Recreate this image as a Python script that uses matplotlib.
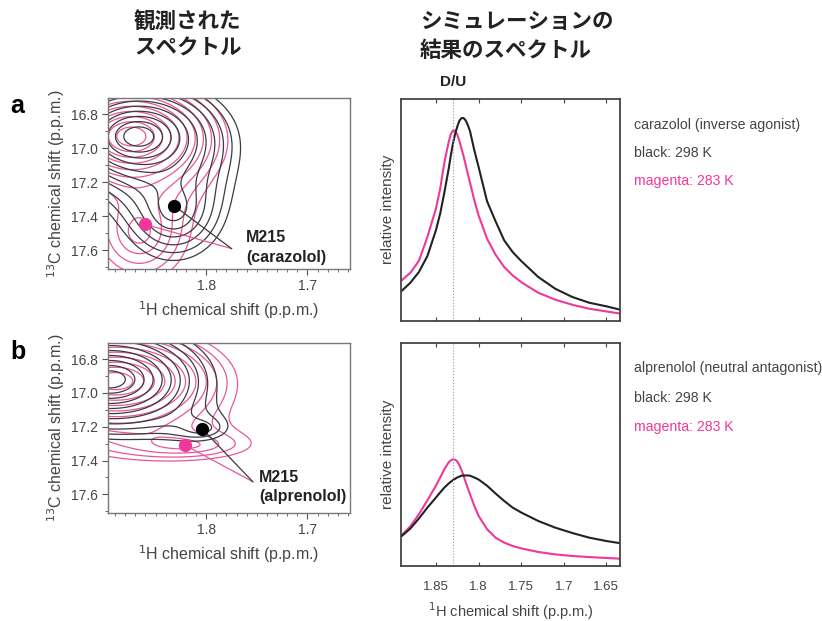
import numpy as np
import matplotlib
matplotlib.use('Agg')
import matplotlib.pyplot as plt
from matplotlib.ticker import MultipleLocator, FixedLocator

plt.rcParams['font.family'] = ['Liberation Sans', 'DejaVu Sans']

W, H = 822, 621
MAG = '#f0379a'
MAG_C = '#e8559f'
BLK_C = '#3c3c3c'
GRAY = '#444444'

# ---------------- simulated spectra (right panels) ----------------
shift_ppm = [1.89, 1.88, 1.87, 1.86, 1.85, 1.845, 1.84, 1.835, 1.8325, 1.83, 1.8275,
             1.825, 1.8225, 1.82, 1.8175, 1.815, 1.8125, 1.81, 1.805, 1.80, 1.79, 1.78,
             1.77, 1.76, 1.75, 1.73, 1.71, 1.69, 1.67, 1.65, 1.635]
a_black = [0.136, 0.172, 0.220, 0.292, 0.408, 0.483, 0.580, 0.685, 0.745, 0.798, 0.840,
           0.873, 0.900, 0.912, 0.912, 0.901, 0.880, 0.853, 0.768, 0.693, 0.538, 0.448,
           0.363, 0.310, 0.270, 0.198, 0.145, 0.108, 0.082, 0.066, 0.052]
a_magenta = [0.183, 0.217, 0.270, 0.378, 0.505, 0.595, 0.715, 0.805, 0.840, 0.856, 0.855,
             0.838, 0.810, 0.775, 0.740, 0.700, 0.660, 0.622, 0.543, 0.475, 0.370, 0.298,
             0.243, 0.205, 0.175, 0.127, 0.096, 0.073, 0.055, 0.043, 0.034]
b_black = [0.135, 0.168, 0.213, 0.262, 0.307, 0.330, 0.352, 0.370, 0.378, 0.385, 0.391,
           0.397, 0.401, 0.405, 0.406, 0.406, 0.406, 0.405, 0.397, 0.388, 0.360, 0.325,
           0.292, 0.262, 0.240, 0.202, 0.172, 0.148, 0.127, 0.112, 0.103]
b_magenta = [0.139, 0.178, 0.232, 0.295, 0.360, 0.397, 0.435, 0.465, 0.474, 0.478, 0.477,
             0.469, 0.452, 0.430, 0.404, 0.375, 0.348, 0.322, 0.270, 0.225, 0.165, 0.127,
             0.105, 0.090, 0.079, 0.063, 0.052, 0.045, 0.040, 0.036, 0.033]
du_ppm = 1.83
right_ticks = [1.85, 1.8, 1.75, 1.7, 1.65]
right_tick_labels = ['1.85', '1.8', '1.75', '1.7', '1.65']

# ---------------- observed spectra (left panels): peak lists ----------------
# (1H ppm, 13C ppm, 1H width, 13C width, amplitude)
a_black_peaks = [(1.867, 16.93, 0.034, 0.13, 1.0), (1.832, 17.36, 0.034, 0.21, 0.28)]
a_magenta_peaks = [(1.874, 16.93, 0.034, 0.13, 1.0), (1.866, 17.50, 0.040, 0.25, 0.22)]
b_black_peaks = [(1.895, 16.92, 0.039, 0.13, 1.0), (1.804, 17.21, 0.029, 0.08, 0.11)]
b_magenta_peaks = [(1.890, 16.93, 0.045, 0.13, 1.0), (1.821, 17.31, 0.070, 0.09, 0.14)]
a_dots = {'black': (1.832, 17.337), 'magenta': (1.860, 17.448)}
b_dots = {'black': (1.804, 17.212), 'magenta': (1.821, 17.309)}
a_label = ('M215', '(carazolol)')
b_label = ('M215', '(alprenolol)')
contour_levels = [0.085 * 1.25 ** i for i in range(11)]
left_yticks = [16.8, 17.0, 17.2, 17.4, 17.6]
left_xticks = [1.8, 1.7]


def fx(px):
    return px / W


def fy(py):
    return 1 - py / H


fig = plt.figure(figsize=(W / 100, H / 100), dpi=100)


def axes_px(x0, y0, x1, y1):
    return fig.add_axes([fx(x0), fy(y1), (x1 - x0) / W, (y1 - y0) / H])


def field(peaks, X, Y):
    Z = np.zeros_like(X)
    for (h, c, wh, wc, amp) in peaks:
        r2 = ((X - h) / wh) ** 2 + ((Y - c) / wc) ** 2
        Z += amp * np.exp(-(np.sqrt(0.04 + r2) - 0.2))
    return Z


def left_panel(ax, bpeaks, mpeaks, dots, conv):
    xs = np.linspace(1.95, 1.6, 500)
    ys = np.linspace(16.3, 18.0, 500)
    X, Y = np.meshgrid(xs, ys)
    ax.contour(X, Y, field(mpeaks, X, Y), levels=contour_levels, colors=MAG_C, linewidths=0.9)
    ax.contour(X, Y, field(bpeaks, X, Y), levels=contour_levels, colors=BLK_C, linewidths=0.9)
    for key in ('magenta', 'black'):
        dx, dy = dots[key]
        ax.plot([dx, conv[0]], [dy, conv[1]], color=MAG_C if key == 'magenta' else BLK_C,
                lw=0.9, zorder=4)
    for key, col in (('magenta', MAG), ('black', 'black')):
        dx, dy = dots[key]
        ax.plot(dx, dy, 'o', color=col, ms=8.5, zorder=5)
    ax.set_xlim(1.897, 1.658)
    ax.set_ylim(17.71, 16.705)
    ax.yaxis.set_major_locator(FixedLocator(left_yticks))
    ax.yaxis.set_minor_locator(MultipleLocator(0.1))
    ax.xaxis.set_major_locator(FixedLocator(left_xticks))
    ax.xaxis.set_minor_locator(MultipleLocator(0.01))
    ax.set_yticklabels(['%.1f' % v for v in left_yticks])
    ax.set_xticklabels(['%.1f' % v for v in left_xticks])
    ax.tick_params(axis='both', which='major', length=4, width=0.8, color='#555555',
                   labelsize=10, labelcolor=GRAY, direction='out', pad=3)
    ax.tick_params(axis='both', which='minor', length=2, width=0.6, color='#555555', direction='out')
    for s in ax.spines.values():
        s.set_color('#777777')
        s.set_linewidth(1.0)


def right_panel(ax, blk, mag, labels):
    ax.plot(shift_ppm, mag, color=MAG, lw=1.5)
    ax.plot(shift_ppm, blk, color='#222222', lw=1.5)
    ax.axvline(du_ppm, color='#999999', lw=0.8, ls=':')
    ax.set_xlim(1.891, 1.634)
    ax.set_ylim(0, 1)
    ax.set_yticks([])
    ax.set_xticks(right_ticks)
    if labels:
        ax.set_xticklabels(right_tick_labels)
    else:
        ax.set_xticklabels([])
    ax.tick_params(axis='x', which='both', direction='in', top=True, bottom=True, length=3,
                   width=0.8, color='#444444', labelsize=9.5, labelcolor=GRAY, pad=11)
    for s in ax.spines.values():
        s.set_color('#444444')
        s.set_linewidth(1.3)
    ax.set_ylabel('relative intensity', fontsize=11, color=GRAY, labelpad=4)


# ---------------- left panels ----------------
axa = axes_px(108, 98, 350, 269)
left_panel(axa, a_black_peaks, a_magenta_peaks, a_dots, (1.775, 17.59))
axb = axes_px(108, 343, 350, 513)
left_panel(axb, b_black_peaks, b_magenta_peaks, b_dots, (1.754, 17.525))

for ax in (axa, axb):
    ax.set_ylabel('$^{13}$C chemical shift (p.p.m.)', fontsize=11.5, color=GRAY, labelpad=3)
    ax.set_xlabel('$^{1}$H chemical shift (p.p.m.)', fontsize=11.5, color=GRAY, labelpad=5)

lab_kw = dict(fontsize=11.5, fontweight='bold', color='#222222', va='center')
fig.text(fx(246), fy(238), a_label[0], **lab_kw)
fig.text(fx(246), fy(257), a_label[1], **lab_kw)
fig.text(fx(259), fy(477), b_label[0], **lab_kw)
fig.text(fx(259), fy(496), b_label[1], **lab_kw)

fig.text(fx(10), fy(106), 'a', fontsize=18, fontweight='bold', va='center')
fig.text(fx(10), fy(352), 'b', fontsize=18, fontweight='bold', va='center')

# ---------------- right panels ----------------
axra = axes_px(401, 98.5, 620, 321)
right_panel(axra, a_black, a_magenta, False)
axrb = axes_px(401, 343, 620, 566)
right_panel(axrb, b_black, b_magenta, True)
axrb.set_xlabel('$^{1}$H chemical shift (p.p.m.)', fontsize=10.5, color=GRAY, labelpad=5)

fig.text(fx(453), fy(82), 'D/U', fontsize=11, fontweight='bold', color='#222222', ha='center', va='center')

ann_kw = dict(fontsize=10.2, va='center')
fig.text(fx(634), fy(125), 'carazolol (inverse agonist)', color=GRAY, **ann_kw)
fig.text(fx(634), fy(153), 'black: 298 K', color=GRAY, **ann_kw)
fig.text(fx(634), fy(181), 'magenta: 283 K', color=MAG, **ann_kw)
fig.text(fx(634), fy(368), 'alprenolol (neutral antagonist)', color=GRAY, **ann_kw)
fig.text(fx(634), fy(398), 'black: 298 K', color=GRAY, **ann_kw)
fig.text(fx(634), fy(427), 'magenta: 283 K', color=MAG, **ann_kw)

# ---------------- Japanese titles ----------------
jp = ['Noto Sans CJK JP', 'DejaVu Sans']
jp_kw = dict(family=jp, fontsize=15.5, fontweight='bold', color='#222222', va='center')
fig.text(fx(134), fy(22), '観測された', **jp_kw)
fig.text(fx(134), fy(48), 'スペクトル', **jp_kw)
fig.text(fx(420), fy(22), 'シミュレーションの', **jp_kw)
fig.text(fx(420), fy(50), '結果のスペクトル', **jp_kw)

fig.savefig('out.png', dpi=100)
